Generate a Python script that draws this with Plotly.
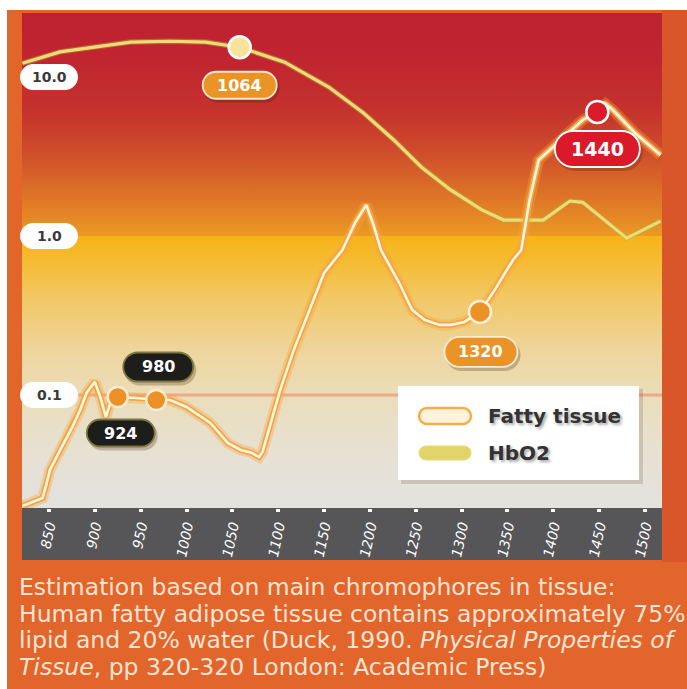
import base64
import numpy as np
import plotly.graph_objects as go

# ---------------- data ----------------
fatty_x = [821, 833, 843, 847, 851, 864, 875, 884, 891, 900, 906, 912, 917, 925, 946, 967, 982,
           1000, 1026, 1045, 1059, 1071, 1079, 1083, 1091, 1102, 1117, 1131, 1150, 1170, 1184,
           1196, 1204, 1212, 1232, 1246, 1260, 1276, 1288, 1303, 1320, 1336, 1356, 1365, 1374,
           1384, 1408, 1432, 1448, 1457, 1465, 1489, 1517]
fatty_y = [0.0200, 0.0212, 0.0225, 0.0272, 0.0337, 0.0471, 0.0620, 0.0805, 0.103, 0.121, 0.0971,
           0.0727, 0.0891, 0.0971, 0.0958, 0.0930, 0.0930, 0.0841, 0.0667, 0.0499, 0.0451, 0.0433,
           0.0407, 0.0440, 0.0648, 0.107, 0.192, 0.310, 0.585, 0.817, 1.22, 1.57, 1.17, 0.817,
           0.506, 0.343, 0.296, 0.276, 0.276, 0.288, 0.333, 0.457, 0.707, 0.817, 1.68, 3.01,
           4.02, 5.37, 6.03, 6.76, 6.20, 4.45, 3.23]

hbo2_x = [821, 862, 939, 982, 1021, 1058, 1107, 1155, 1193, 1226, 1256, 1288, 1322, 1346,
          1389, 1418, 1432, 1480, 1517]
hbo2_y = [12.2, 14.4, 16.6, 16.8, 16.6, 15.4, 12.4, 8.65, 5.94, 4.02, 2.72, 1.95, 1.46, 1.26,
          1.26, 1.66, 1.63, 0.97, 1.24]

mark_x = [925, 967, 1058, 1320, 1448]
mark_y = [0.0971, 0.0930, 15.4, 0.333, 6.03]
mark_text = ["924", "980", "1064", "1320", "1440"]

x_ticks = list(range(850, 1501, 50))
y_ticks = [0.1, 1, 10]
y_ticktext = ["0.1", "1.0", "10.0"]

legend_names = ["Fatty tissue", "HbO2"]

caption_lines = [
    "Estimation based on main chromophores in tissue:",
    "Human fatty adipose tissue contains approximately 75%",
    "lipid and 20% water (Duck, 1990. <i>Physical Properties of</i>",
    "<i>Tissue</i>, pp 320-320 London: Academic Press)",
]

# ---------------- geometry ----------------
W, H = 687, 689
L, R, T, B = 22, 662, 13, 508
XR = [820.6, 1518.5]
YR = [-1.711, 1.403]   # log10 range


def fx(px):
    return (px - L) / (R - L)


def fy(py):
    return (B - py) / (B - T)


def ypaper(v):
    return (np.log10(v) - YR[0]) / (YR[1] - YR[0])


def pill_path(cx, cy, w, h, r=None):
    if r is None:
        r = h / 2
    k = 0.5523 * r
    x0, x1, y0, y1 = cx - w / 2, cx + w / 2, cy - h / 2, cy + h / 2
    return (f"M{x0 + r},{y0} L{x1 - r},{y0} "
            f"C{x1 - r + k},{y0} {x1},{y0 + r - k} {x1},{y0 + r} "
            f"L{x1},{y1 - r} "
            f"C{x1},{y1 - r + k} {x1 - r + k},{y1} {x1 - r},{y1} "
            f"L{x0 + r},{y1} "
            f"C{x0 + r - k},{y1} {x0},{y1 - r + k} {x0},{y1 - r} "
            f"L{x0},{y0 + r} "
            f"C{x0},{y0 + r - k} {x0 + r - k},{y0} {x0 + r},{y0} Z")


shapes = []
annots = []

# white page margin (top / left) and darker right strip
shapes.append(dict(type="rect", xref="paper", yref="paper", x0=fx(-2), x1=fx(W + 2), y0=fy(10), y1=fy(-2),
                   fillcolor="white", line_width=0, layer="below"))
shapes.append(dict(type="rect", xref="paper", yref="paper", x0=fx(-2), x1=fx(7), y0=fy(H + 2), y1=fy(-2),
                   fillcolor="white", line_width=0, layer="below"))
shapes.append(dict(type="rect", xref="paper", yref="paper", x0=fx(R), x1=fx(W + 2), y0=fy(562), y1=fy(10),
                   fillcolor="#D9562A", line_width=0, layer="below"))

# gradient panel as an svg image
stops = [(13, "#BE2130"), (60, "#C02530"), (110, "#C5322D"), (150, "#CE4B2B"), (185, "#DA6A28"),
         (215, "#E48526"), (236.5, "#EB9A25"),
         (236.5, "#F7B41A"), (260, "#F5BB30"), (300, "#F2C868"), (350, "#EED59C"),
         (395, "#EBDDBA"), (450, "#E7E1D2"), (508, "#E3E2DF")]
stop_xml = "".join(f'<stop offset="{(py - T) / (B - T):.4f}" stop-color="{c}"/>' for py, c in stops)
svg = (f'<svg xmlns="http://www.w3.org/2000/svg" width="{R - L}" height="{B - T}" '
       f'viewBox="0 0 {R - L} {B - T}" preserveAspectRatio="none">'
       f'<defs><linearGradient id="g" x1="0" y1="0" x2="0" y2="1">{stop_xml}</linearGradient></defs>'
       f'<rect x="0" y="0" width="{R - L}" height="{B - T}" fill="url(#g)"/></svg>')
svg_uri = "data:image/svg+xml;base64," + base64.b64encode(svg.encode()).decode()

# salmon line at 0.1
shapes.append(dict(type="line", xref="paper", yref="paper", x0=0, x1=1, y0=ypaper(0.1), y1=ypaper(0.1),
                   line=dict(color="rgba(240,160,130,0.85)", width=3), layer="below"))

# dark x-axis band
shapes.append(dict(type="rect", xref="paper", yref="paper", x0=0, x1=1, y0=fy(560), y1=fy(508),
                   fillcolor="#565658", line_width=0, layer="below"))

# y-axis pills
for v, t in zip(y_ticks, y_ticktext):
    shapes.append(dict(type="path", xref="paper", yref="paper", xsizemode="pixel", ysizemode="pixel",
                       xanchor=0, yanchor=ypaper(v), path=pill_path(27, 0, 57, 25),
                       fillcolor="white", line=dict(color="white", width=1)))
    annots.append(dict(xref="paper", yref="y", x=0, y=np.log10(v), xshift=27, xanchor="center",
                       yanchor="middle", text=t, showarrow=False,
                       font=dict(family="DejaVu Sans", size=14, color="#3a3a3a", weight="bold")))

# ---------------- traces ----------------
fig = go.Figure()
fig.add_trace(go.Scatter(x=hbo2_x, y=hbo2_y, mode="lines", line=dict(color="rgba(190,170,60,0.45)", width=5.5),
                         hoverinfo="skip"))
fig.add_trace(go.Scatter(x=hbo2_x, y=hbo2_y, mode="lines", name=legend_names[1],
                         line=dict(color="#E9DD76", width=3.2)))
fig.add_trace(go.Scatter(x=fatty_x, y=fatty_y, mode="lines", line=dict(color="rgba(247,166,64,0.35)", width=11),
                         hoverinfo="skip"))
fig.add_trace(go.Scatter(x=fatty_x, y=fatty_y, mode="lines", line=dict(color="#F3A443", width=6),
                         hoverinfo="skip"))
fig.add_trace(go.Scatter(x=fatty_x, y=fatty_y, mode="lines", name=legend_names[0],
                         line=dict(color="#FFF6DE", width=2.6)))

mark_fill = ["#EB9126", "#EB9126", "#FDE39A", "#EB9126", "#DC1A2A"]
mark_line = ["#FCEBD0", "#FCEBD0", "#FFFFFF", "#FFF2DC", "#FFFFFF"]
fig.add_trace(go.Scatter(x=mark_x, y=mark_y, mode="markers",
                         marker=dict(size=[20, 20, 22, 22, 22], color=mark_fill, opacity=1,
                                     line=dict(color=mark_line, width=2.5)),
                         cliponaxis=False))

# label pills  (dx, dy in pixels, y up), w, h, fill, border, font size
pill_specs = [
    (3, -36, 68, 27, "#1D1D1B", "#7F7640", 16),
    (2, 33, 70, 29, "#1D1D1B", "#7F7640", 16),
    (0, -38, 74, 27, "#EA9428", "#FCE7CF", 16),
    (1, -40, 73, 30, "#EA9428", "#FCEBD6", 16),
    (0, -37, 85, 36, "#DA1A2B", "#FFFFFF", 19),
]
for mx, my, t, (dx, dy, w, h, fc, lc, fs) in zip(mark_x, mark_y, mark_text, pill_specs):
    shapes.append(dict(type="path", xref="x", yref="paper", xsizemode="pixel", ysizemode="pixel",
                       xanchor=mx, yanchor=ypaper(my), path=pill_path(dx + 2, dy - 3, w + 2, h + 2),
                       fillcolor="rgba(60,30,10,0.25)", line_width=0))
    shapes.append(dict(type="path", xref="x", yref="paper", xsizemode="pixel", ysizemode="pixel",
                       xanchor=mx, yanchor=ypaper(my), path=pill_path(dx, dy, w, h),
                       fillcolor=fc, line=dict(color=lc, width=1.8)))
    annots.append(dict(xref="x", yref="y", x=mx, y=np.log10(my), xshift=dx, yshift=dy, text=t,
                       xanchor="center", yanchor="middle", showarrow=False,
                       font=dict(family="DejaVu Sans", size=fs, color="white", weight="bold")))

# ---------------- legend ----------------
shapes.append(dict(type="rect", xref="paper", yref="paper", x0=fx(401), x1=fx(643), y0=fy(484), y1=fy(389),
                   fillcolor="rgba(80,60,40,0.18)", line_width=0))
shapes.append(dict(type="rect", xref="paper", yref="paper", x0=fx(398), x1=fx(639), y0=fy(480), y1=fy(386),
                   fillcolor="white", line_width=0))
shapes.append(dict(type="path", xref="paper", yref="paper", xsizemode="pixel", ysizemode="pixel",
                   xanchor=fx(445), yanchor=fy(416), path=pill_path(0, 0, 52, 16),
                   fillcolor="#FFF3DC", line=dict(color="#F5AE4A", width=2.5)))
shapes.append(dict(type="path", xref="paper", yref="paper", xsizemode="pixel", ysizemode="pixel",
                   xanchor=fx(445), yanchor=fy(453), path=pill_path(0, 0, 52, 14),
                   fillcolor="#E2D46A", line=dict(color="#E6DA7A", width=1)))
for name, py in zip(legend_names, [416, 453]):
    annots.append(dict(xref="paper", yref="paper", x=fx(486), y=fy(py), xanchor="left", yanchor="middle",
                       text=name, showarrow=False,
                       font=dict(family="DejaVu Sans", size=20, color="#333333", weight="bold",
                                 shadow="2px 2px 3px rgba(0,0,0,0.35)")))

# caption
for line, py in zip(caption_lines, [587, 613.5, 640, 666.5]):
    annots.append(dict(xref="paper", yref="paper", x=fx(17), y=fy(py), xanchor="left", yanchor="middle",
                       align="left", text=line, showarrow=False,
                       font=dict(family="DejaVu Sans", size=23.5, color="#FCE4D4")))

fig.update_layout(
    width=W, height=H,
    margin=dict(l=L, r=W - R, t=T, b=H - B, pad=0),
    paper_bgcolor="#E2652B", plot_bgcolor="rgba(0,0,0,0)",
    showlegend=False,
    shapes=shapes, annotations=annots,
    images=[dict(source=svg_uri, xref="paper", yref="paper", x=0, y=1, sizex=1, sizey=1,
                 xanchor="left", yanchor="top", sizing="stretch", layer="below")],
    xaxis=dict(range=XR, tickvals=x_ticks, ticktext=[str(v) for v in x_ticks], tickangle=-78,
               showgrid=False, zeroline=False, showline=False,
               ticks="outside", ticklen=3, tickwidth=4, tickcolor="white",
               tickfont=dict(family="DejaVu Sans", size=14, color="white", style="italic")),
    yaxis=dict(type="log", range=YR, showgrid=False, zeroline=False, showline=False,
               showticklabels=False, ticks=""),
)

fig.write_html("out.html", config={"displayModeBar": False},
               post_script="document.body.style.margin='0';document.body.style.overflow='hidden';")
